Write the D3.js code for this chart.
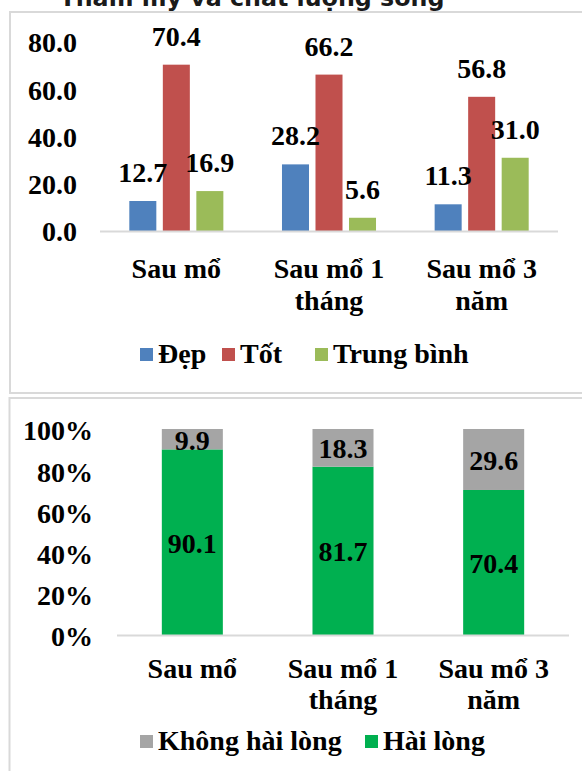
<!DOCTYPE html>
<html>
<head>
<meta charset="utf-8">
<script src="https://cdn.jsdelivr.net/npm/d3@7"></script>
<style>
  html, body { margin: 0; padding: 0; background: #ffffff; }
  svg { display: block; }
</style>
</head>
<body>
<svg id="chart" width="582" height="771"></svg>
<script>
// ---- Chart 1: aesthetics & quality of life ----
const titleText = "Thẩm mỹ và chất lượng sống";
const categories1 = [["Sau mổ"], ["Sau mổ 1", "tháng"], ["Sau mổ 3", "năm"]];
const seriesNames1 = ["Đẹp", "Tốt", "Trung bình"];
const dep = [12.7, 28.2, 11.3];
const tot = [70.4, 66.2, 56.8];
const trungBinh = [16.9, 5.6, 31.0];
const yTicks1 = [0, 20, 40, 60, 80];
const colors1 = ["#4F81BD", "#C0504D", "#9BBB59"];

// ---- Chart 2: satisfaction ----
const categories2 = [["Sau mổ"], ["Sau mổ 1", "tháng"], ["Sau mổ 3", "năm"]];
const seriesNames2 = ["Không hài lòng", "Hài lòng"];
const khongHaiLong = [9.9, 18.3, 29.6];
const haiLong = [90.1, 81.7, 70.4];
const yTicks2 = [0, 20, 40, 60, 80, 100];
const colors2 = ["#A5A5A5", "#00B050"];

const svg = d3.select("#chart");
const FS = 28;
const SERIF = "'Liberation Serif', 'DejaVu Serif', serif";
const frameColor = "#D9D9D9";

// shared text styling for every label
function lbl(sel) {
  return sel.style("font-family", SERIF).style("font-weight", "bold")
    .style("font-size", FS + "px").style("fill", "#000");
}

// frames
svg.append("rect").attr("x", 10).attr("y", 12).attr("width", 600).attr("height", 381)
  .attr("fill", "#fff").attr("stroke", frameColor).attr("stroke-width", 2);
svg.append("rect").attr("x", 9.5).attr("y", 398).attr("width", 600).attr("height", 400)
  .attr("fill", "#fff").attr("stroke", frameColor).attr("stroke-width", 2);

// title (sits above the first frame, partly off the top edge)
const title = svg.append("text")
  .attr("x", 252).attr("y", 6)
  .attr("text-anchor", "middle")
  .style("font-family", "'DejaVu Sans', Verdana, sans-serif")
  .style("font-weight", "bold")
  .style("font-size", "21px")
  .attr("fill", "#1a1a1a")
  .text(titleText);
const tw = title.node().getComputedTextLength();
title.style("font-size", (21 * 385 / tw) + "px");

// ================= Chart 1 =================
const keys1 = [0, 1, 2];
const x1 = d3.scaleBand().domain(keys1).range([100, 558]).paddingInner(0.384).paddingOuter(0.192);
const xs1 = d3.scaleBand().domain(seriesNames1).range([0, x1.bandwidth()]).paddingInner(0.194);
const y1 = d3.scaleLinear().domain([0, 80]).range([231, 42]);
const values1 = [dep, tot, trungBinh];

// y axis labels
const yAxis1 = d3.axisLeft(y1).tickValues(yTicks1).tickFormat(d3.format(".1f")).tickSize(0).tickPadding(0);
const gy1 = svg.append("g").attr("transform", "translate(77,1)").call(yAxis1);
gy1.select(".domain").remove();
lbl(gy1.selectAll("text"));

// bars
seriesNames1.forEach((s, si) => {
  svg.append("g").selectAll("rect")
    .data(values1[si])
    .join("rect")
    .attr("x", (d, i) => x1(i) + xs1(s))
    .attr("width", xs1.bandwidth())
    .attr("y", d => y1(d))
    .attr("height", d => y1(0) - y1(d))
    .attr("fill", colors1[si]);
});

// baseline
svg.append("line").attr("x1", 100).attr("x2", 558).attr("y1", y1(0) + 0.5).attr("y2", y1(0) + 0.5)
  .attr("stroke", frameColor).attr("stroke-width", 2);

// value labels
seriesNames1.forEach((s, si) => {
  lbl(svg.append("g").selectAll("text")
    .data(values1[si])
    .join("text"))
    .attr("text-anchor", "middle")
    .attr("x", (d, i) => x1(i) + xs1(s) + xs1.bandwidth() / 2)
    .attr("y", d => y1(d) - 19)
    .text(d => d.toFixed(1));
});

// category labels
categories1.forEach((lines, i) => {
  const t = lbl(svg.append("text")).attr("text-anchor", "middle");
  lines.forEach((ln, j) => {
    t.append("tspan").attr("x", x1(i) + x1.bandwidth() / 2).attr("y", 278 + j * 32).text(ln);
  });
});

// legend
const leg1X = [140, 222, 315];
seriesNames1.forEach((s, si) => {
  svg.append("rect").attr("x", leg1X[si]).attr("y", 348).attr("width", 13).attr("height", 13)
    .attr("fill", colors1[si]);
  lbl(svg.append("text")).attr("x", leg1X[si] + 18).attr("y", 363).text(s);
});

// ================= Chart 2 =================
const x2 = d3.scaleBand().domain(keys1).range([117, 569]).paddingInner(0.595).paddingOuter(0.2975);
const y2 = d3.scaleLinear().domain([0, 100]).range([635, 429]);

const yAxis2 = d3.axisLeft(y2).tickValues(yTicks2).tickFormat(d => d + "%").tickSize(0).tickPadding(0);
const gy2 = svg.append("g").attr("transform", "translate(93,2)").call(yAxis2);
gy2.select(".domain").remove();
lbl(gy2.selectAll("text"));

const rows2 = keys1.map(i => ({ i, "Hài lòng": haiLong[i], "Không hài lòng": khongHaiLong[i] }));
const stack = d3.stack().keys(["Hài lòng", "Không hài lòng"])(rows2);
const color2 = d3.scaleOrdinal().domain(seriesNames2).range(colors2);

stack.forEach(layer => {
  svg.append("g").selectAll("rect")
    .data(layer)
    .join("rect")
    .attr("x", d => x2(d.data.i))
    .attr("width", x2.bandwidth())
    .attr("y", d => y2(d[1]))
    .attr("height", d => y2(d[0]) - y2(d[1]))
    .attr("fill", color2(layer.key));
});

svg.append("line").attr("x1", 117).attr("x2", 569).attr("y1", y2(0) + 0.5).attr("y2", y2(0) + 0.5)
  .attr("stroke", frameColor).attr("stroke-width", 2);

stack.forEach(layer => {
  lbl(svg.append("g").selectAll("text")
    .data(layer)
    .join("text"))
    .attr("text-anchor", "middle")
    .attr("dominant-baseline", "central")
    .attr("x", d => x2(d.data.i) + x2.bandwidth() / 2)
    .attr("y", d => (y2(d[0]) + y2(d[1])) / 2 + 1)
    .text(d => (d[1] - d[0]).toFixed(1));
});

categories2.forEach((lines, i) => {
  const t = lbl(svg.append("text")).attr("text-anchor", "middle");
  lines.forEach((ln, j) => {
    t.append("tspan").attr("x", x2(i) + x2.bandwidth() / 2).attr("y", 678 + j * 31).text(ln);
  });
});

const leg2X = [140, 365];
seriesNames2.forEach((s, si) => {
  svg.append("rect").attr("x", leg2X[si]).attr("y", 735).attr("width", 13).attr("height", 13)
    .attr("fill", colors2[si]);
  lbl(svg.append("text")).attr("x", leg2X[si] + 18).attr("y", 750).text(s);
});
</script>
</body>
</html>
